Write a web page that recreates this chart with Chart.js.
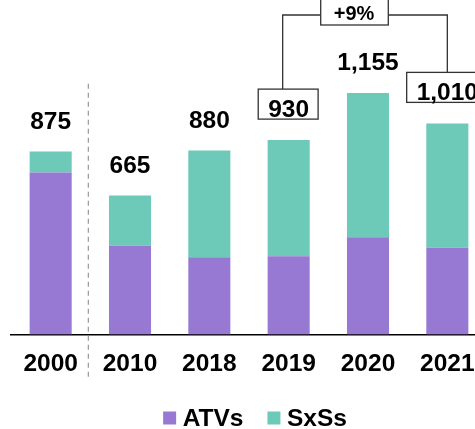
<!DOCTYPE html>
<html>
<head>
<meta charset="utf-8">
<script src="https://cdn.jsdelivr.net/npm/chart.js@4/dist/chart.umd.min.js"></script>
<style>
  body { margin: 0; background: #fff; }
  #wrap { width: 475px; height: 429px; overflow: hidden; }
</style>
</head>
<body>
<div id="wrap"><canvas id="unitsChart" width="510" height="429"></canvas></div>
<script>
// Units by year, split ATVs / SxSs
const years = ['2000', '2010', '2018', '2019', '2020', '2021'];
const atvs = [775, 425, 370, 375, 465, 415];
const sxss = [100, 240, 510, 555, 690, 595];
const boxedYears = ['2019', '2021'];
const growthLabel = '+9%';

const FONT = "'Liberation Sans', Arial, Helvetica, sans-serif";
const PURPLE = '#9779d3';
const TEAL = '#6dcab8';

function fmt(n) {
  return n.toLocaleString('en-US');
}

// totals, boxes, bracket, dashed separator and legend
const overlayPlugin = {
  id: 'overlay',
  afterDatasetsDraw(chart) {
    const ctx = chart.ctx;
    const x = chart.scales.x;
    const y = chart.scales.y;
    const area = chart.chartArea;

    // dashed separator between 2000 and later years
    const sepX = (x.getPixelForValue(0) + x.getPixelForValue(1)) / 2 - 2;
    ctx.save();
    ctx.strokeStyle = '#999';
    ctx.lineWidth = 1.2;
    ctx.setLineDash([5, 4]);
    ctx.beginPath();
    ctx.moveTo(sepX, y.getPixelForValue(1200));
    ctx.lineTo(sepX, area.bottom + 46);
    ctx.stroke();
    ctx.restore();

    // total labels
    ctx.save();
    ctx.font = 'bold 24.5px ' + FONT;
    ctx.fillStyle = '#000';
    ctx.textAlign = 'center';
    ctx.textBaseline = 'alphabetic';
    const boxes = {};
    years.forEach((yr, i) => {
      const total = atvs[i] + sxss[i];
      const cx = x.getPixelForValue(i);
      const base = y.getPixelForValue(total) - 23;
      const txt = fmt(total);
      if (boxedYears.includes(yr)) {
        const w = ctx.measureText(txt).width;
        const bx = cx - w / 2 - 10;
        const by = base - 28;
        const bw = w + 19;
        const bh = 30;
        ctx.fillStyle = '#fff';
        ctx.fillRect(bx, by, bw, bh);
        ctx.strokeStyle = '#333';
        ctx.lineWidth = 1.3;
        ctx.strokeRect(bx, by, bw, bh);
        ctx.fillStyle = '#000';
        boxes[yr] = { top: by, cx: cx };
      }
      ctx.fillText(txt, cx, base);
    });
    ctx.restore();

    // growth bracket from 2019 to 2021
    const a = boxes[boxedYears[0]];
    const b = boxes[boxedYears[1]];
    const lx = a.cx - 6;
    const rx = b.cx;
    const topY = 15;
    ctx.save();
    ctx.font = 'bold 20px ' + FONT;
    const gw = ctx.measureText(growthLabel).width;
    const gcx = (lx + rx) / 2 - 11;
    const gbx = gcx - gw / 2 - 13;
    const gbw = gw + 27;
    ctx.strokeStyle = '#333';
    ctx.lineWidth = 1.3;
    ctx.beginPath();
    ctx.moveTo(lx, a.top);
    ctx.lineTo(lx, topY);
    ctx.lineTo(gbx, topY);
    ctx.moveTo(gbx + gbw, topY);
    ctx.lineTo(rx, topY);
    ctx.lineTo(rx, b.top);
    ctx.stroke();
    ctx.fillStyle = '#fff';
    ctx.fillRect(gbx, -5, gbw, 30);
    ctx.strokeRect(gbx, -5, gbw, 30);
    ctx.fillStyle = '#000';
    ctx.textAlign = 'center';
    ctx.textBaseline = 'alphabetic';
    ctx.fillText(growthLabel, gcx, 20);
    ctx.restore();
  },
  afterDraw(chart) {
    // legend
    const ctx = chart.ctx;
    ctx.save();
    ctx.font = 'bold 24.5px ' + FONT;
    const items = chart.data.datasets.map(ds => ({
      label: ds.label,
      color: ds.backgroundColor,
      w: ctx.measureText(ds.label).width
    }));
    const box = 13, gap = 6.5, spacing = 24;
    let total = 0;
    items.forEach((it, i) => {
      total += box + gap + it.w + (i < items.length - 1 ? spacing : 0);
    });
    let lx = chart.width / 2 - total / 2;
    const baseY = 426;
    items.forEach(it => {
      ctx.fillStyle = it.color;
      ctx.fillRect(lx, baseY - 14.5, box, box);
      ctx.fillStyle = '#000';
      ctx.textBaseline = 'alphabetic';
      ctx.fillText(it.label, lx + box + gap, baseY);
      lx += box + gap + it.w + spacing;
    });
    ctx.restore();
  }
};

const ctx = document.getElementById('unitsChart').getContext('2d');
new Chart(ctx, {
  type: 'bar',
  data: {
    labels: years,
    datasets: [
      { label: 'ATVs', data: atvs, backgroundColor: PURPLE, borderWidth: 0 },
      { label: 'SxSs', data: sxss, backgroundColor: TEAL, borderWidth: 0 }
    ]
  },
  options: {
    responsive: false,
    animation: false,
    barPercentage: 0.53,
    categoryPercentage: 1,
    layout: { padding: { left: 11, right: 23, top: 0, bottom: 35 } },
    plugins: {
      legend: { display: false },
      tooltip: { enabled: false }
    },
    scales: {
      x: {
        stacked: true,
        grid: { display: false, drawTicks: false },
        border: { display: true, color: '#000', width: 1.5 },
        ticks: {
          color: '#000',
          padding: 15,
          font: { family: FONT, size: 24.5, weight: 'bold' }
        }
      },
      y: {
        stacked: true,
        display: false,
        min: 0,
        max: 1600
      }
    }
  },
  plugins: [overlayPlugin]
});
</script>
</body>
</html>
